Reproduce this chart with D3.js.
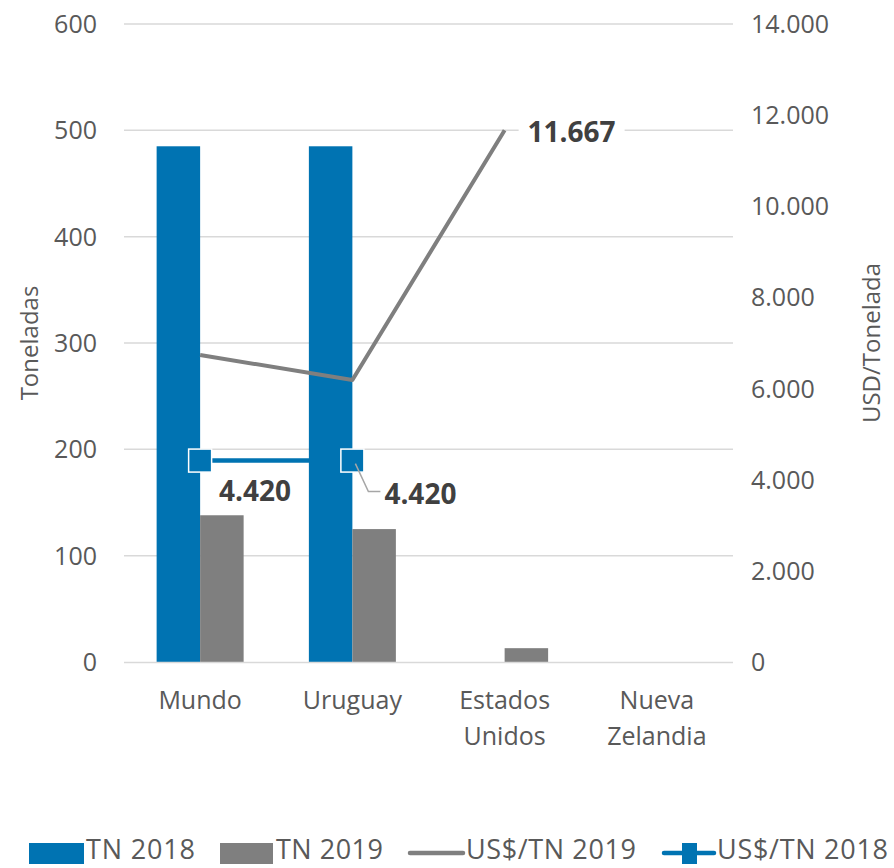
<!DOCTYPE html>
<html><head><meta charset="utf-8">
<script src="https://cdn.jsdelivr.net/npm/d3@7"></script>
<style>body{margin:0;background:#fff}svg{display:block}text{font-family:"Open Sans",sans-serif}</style>
</head><body><div id="c"></div>
<script>
const categories = [["Mundo"],["Uruguay"],["Estados","Unidos"],["Nueva","Zelandia"]];
const catKeys = ["Mundo","Uruguay","Estados Unidos","Nueva Zelandia"];
const tn2018 = [485, 485, null, null];
const tn2019 = [138, 125, 13, null];
const usd2019 = [6737, 6188, 11667, null];
const usd2018 = [4420, 4420, null, null];
const leftTicks = [0,100,200,300,400,500,600];
const rightTicks = [0,2000,4000,6000,8000,10000,12000,14000];
const legendLabels = ["TN 2018","TN 2019","US$/TN 2019","US$/TN 2018"];

const W=894,H=868;
const blue="#0073b2", gray="#7f7f7f", txt="#595959";
const svg=d3.select("#c").append("svg").attr("width",W).attr("height",H);
const x=d3.scaleBand().domain(catKeys).range([124,733]);
const yL=d3.scaleLinear().domain([0,600]).range([662,24]);
const yR=d3.scaleLinear().domain([0,14000]).range([662,24]);
const fmt=d3.formatLocale({decimal:",",thousands:".",grouping:[3]}).format(",.0f");
const cx=k=>x(k)+x.bandwidth()/2;

// gridlines
svg.append("g").selectAll("line").data(leftTicks.filter(d=>d>0)).join("line")
 .attr("x1",124).attr("x2",733).attr("y1",d=>yL(d)).attr("y2",d=>yL(d))
 .attr("stroke","#d9d9d9").attr("stroke-width",1.5);

// axis tick labels
svg.append("g").selectAll("text").data(leftTicks).join("text")
 .attr("x",97).attr("y",d=>yL(d)+9).attr("text-anchor","end")
 .attr("font-size",25).attr("fill",txt).text(d=>d);
svg.append("g").selectAll("text").data(rightTicks).join("text")
 .attr("x",751).attr("y",d=>yR(d)+9).attr("text-anchor","start")
 .attr("font-size",25).attr("fill",txt).text(d=>fmt(d));

// bars
const bw=43.5;
svg.append("g").selectAll("rect").data(catKeys.map((k,i)=>({k,v:tn2018[i]})).filter(d=>d.v!=null)).join("rect")
 .attr("x",d=>cx(d.k)-bw).attr("width",bw).attr("y",d=>yL(d.v)).attr("height",d=>yL(0)-yL(d.v)).attr("fill",blue);
svg.append("g").selectAll("rect").data(catKeys.map((k,i)=>({k,v:tn2019[i]})).filter(d=>d.v!=null)).join("rect")
 .attr("x",d=>cx(d.k)).attr("width",bw).attr("y",d=>yL(d.v)).attr("height",d=>yL(0)-yL(d.v)).attr("fill",gray);

// x axis line
svg.append("line").attr("x1",124).attr("x2",733).attr("y1",662.5).attr("y2",662.5).attr("stroke","#d9d9d9").attr("stroke-width",1.5);

// lines
const line=d3.line().defined(d=>d.v!=null).x(d=>cx(d.k)).y(d=>yR(d.v));
const d19=catKeys.map((k,i)=>({k,v:usd2019[i]}));
const d18=catKeys.map((k,i)=>({k,v:usd2018[i]}));
svg.append("path").datum(d19).attr("d",line).attr("fill","none").attr("stroke",gray).attr("stroke-width",4).attr("stroke-linejoin","round");
svg.append("path").datum(d18).attr("d",line).attr("fill","none").attr("stroke",blue).attr("stroke-width",4.5);
svg.append("g").selectAll("rect").data(d18.filter(d=>d.v!=null)).join("rect")
 .attr("x",d=>cx(d.k)-11.5).attr("y",d=>yR(d.v)-11.5).attr("width",23).attr("height",23)
 .attr("fill",blue).attr("stroke","#fff").attr("stroke-width",1.5);

// data labels
const lab=(t,xx,yy,anchor)=>svg.append("text").attr("x",xx).attr("y",yy).attr("text-anchor",anchor||"middle")
 .attr("font-size",28).attr("font-weight","bold").attr("fill","#404040").text(t);
const p3x=cx(catKeys[2]), p3y=yR(usd2019[2]);
svg.append("rect").attr("x",p3x+14).attr("y",p3y-16).attr("width",106).attr("height",30).attr("fill","#fff");
lab(fmt(usd2019[2]),p3x+67,p3y+12);
lab(fmt(usd2018[0]),cx(catKeys[0])+55,yR(usd2018[0])+40);
const ux=cx(catKeys[1]), uy=yR(usd2018[1]);
svg.append("polyline").attr("points",[[ux+3,uy+3],[ux+16,uy+31],[ux+28,uy+31]].map(p=>p.join(",")).join(" "))
 .attr("fill","none").attr("stroke","#a6a6a6").attr("stroke-width",1.5);
lab(fmt(usd2018[1]),ux+32,uy+43,"start");

// category labels
const cg=svg.append("g").selectAll("text").data(categories).join("text")
 .attr("x",(d,i)=>cx(catKeys[i])).attr("y",709).attr("text-anchor","middle").attr("font-size",25).attr("fill",txt);
cg.selectAll("tspan").data(d=>d).join("tspan").attr("x",function(){return this.parentNode.getAttribute("x");})
 .attr("dy",(d,i)=>i?36:0).text(d=>d);

// axis titles
svg.append("text").attr("transform","translate(38,343) rotate(-90)").attr("text-anchor","middle")
 .attr("font-size",24).attr("fill",txt).text("Toneladas");
svg.append("text").attr("transform","translate(880,343) rotate(-90)").attr("text-anchor","middle")
 .attr("font-size",24).attr("fill",txt).text("USD/Tonelada");

// legend
const lg=svg.append("g");
const ly=853, ty=859, fs=27;
lg.append("rect").attr("x",29).attr("y",ly-10).attr("width",55).attr("height",21).attr("fill",blue);
lg.append("text").attr("x",86).attr("y",ty).attr("font-size",fs).attr("fill",txt).attr("textLength",109).text(legendLabels[0]);
lg.append("rect").attr("x",220).attr("y",ly-10).attr("width",53).attr("height",21).attr("fill",gray);
lg.append("text").attr("x",276).attr("y",ty).attr("font-size",fs).attr("fill",txt).attr("textLength",107).text(legendLabels[1]);
lg.append("line").attr("x1",410).attr("x2",463).attr("y1",ly).attr("y2",ly).attr("stroke",gray).attr("stroke-width",4.5).attr("stroke-linecap","round");
lg.append("text").attr("x",466).attr("y",ty).attr("font-size",fs).attr("fill",txt).attr("textLength",170).text(legendLabels[2]);
lg.append("line").attr("x1",664).attr("x2",714).attr("y1",ly).attr("y2",ly).attr("stroke",blue).attr("stroke-width",4.5).attr("stroke-linecap","round");
lg.append("rect").attr("x",682).attr("y",ly-10).attr("width",15).attr("height",21).attr("fill",blue);
lg.append("text").attr("x",717).attr("y",ty).attr("font-size",fs).attr("fill",txt).attr("textLength",171).text(legendLabels[3]);
</script></body></html>
